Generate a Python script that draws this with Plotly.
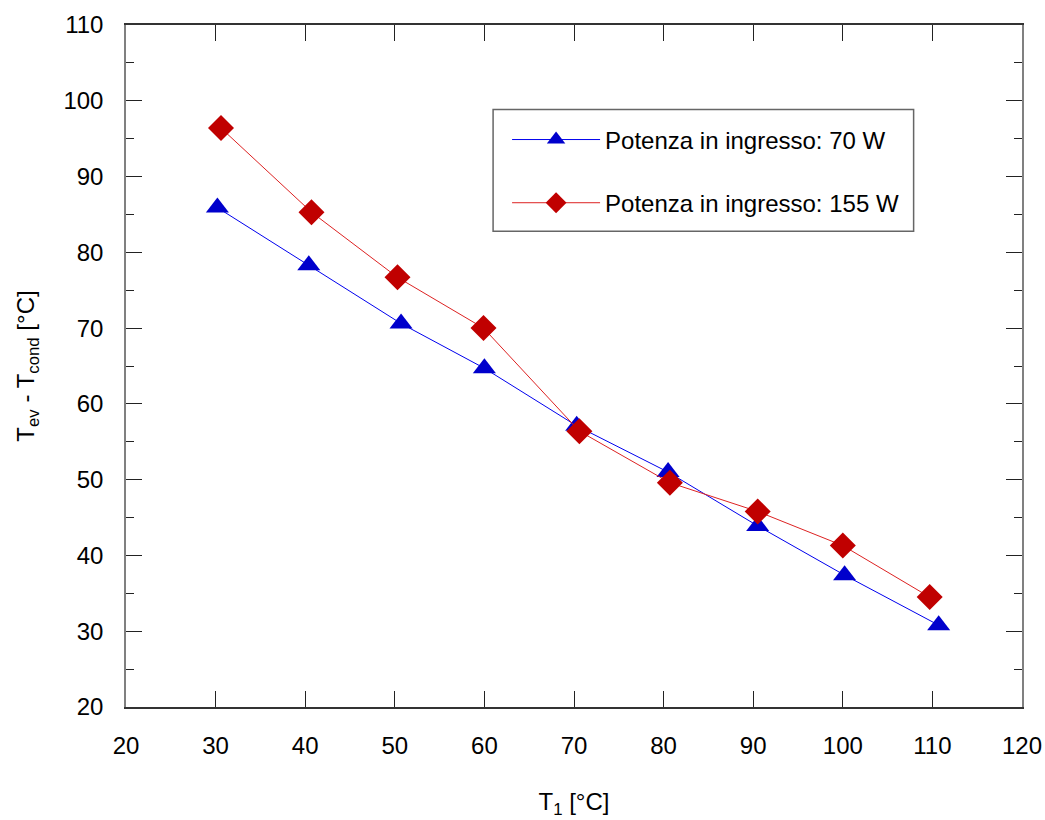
import plotly.graph_objects as go

t1_70 = [30.2, 40.4, 50.7, 60.0, 70.3, 80.5, 90.5, 100.2, 110.7]
dt_70 = [85.9, 78.3, 70.6, 64.7, 57.1, 51.0, 43.9, 37.4, 30.8]
t1_155 = [30.6, 40.7, 50.3, 59.9, 70.6, 80.7, 90.5, 100.0, 109.7]
dt_155 = [96.4, 85.3, 76.7, 70.0, 56.4, 49.6, 45.8, 41.3, 34.5]
name_70 = "Potenza in ingresso: 70 W"
name_155 = "Potenza in ingresso: 155 W"
x_ticks = [20, 30, 40, 50, 60, 70, 80, 90, 100, 110, 120]
y_ticks = [20, 30, 40, 50, 60, 70, 80, 90, 100, 110]

font = "Liberation Sans, Arial, sans-serif"

# page geometry (body margin removed by post_script)
W, H = 1045, 820
PX0, PX1, PY0, PY1 = 125.5, 1022.5, 24.5, 707.0
def fx(px):
    return (px - PX0) / (PX1 - PX0)
def fy(py):
    return (PY1 - py) / (PY1 - PY0)

fig = go.Figure()
fig.add_trace(go.Scatter(
    x=t1_70, y=dt_70, mode="lines+markers", name=name_70, legendgroup="a",
    line=dict(color="#0000ee", width=1),
    marker=dict(symbol="triangle-up", size=20, color="#0000cc"),
))
fig.add_trace(go.Scatter(
    x=t1_155, y=dt_155, mode="lines+markers", name=name_155, legendgroup="b",
    line=dict(color="#dd2222", width=1),
    marker=dict(symbol="diamond", size=20, color="#c00000"),
))

fig.add_shape(type="rect", xref="paper", yref="paper",
              x0=fx(493), x1=fx(914), y0=fy(231), y1=fy(109),
              line=dict(color="#666666", width=1.5), fillcolor="white", layer="below")

fig.update_layout(
    width=W, height=H,
    margin=dict(l=PX0, r=W - PX1, t=PY0, b=H - PY1),
    paper_bgcolor="white", plot_bgcolor="white",
    font=dict(family=font, size=24, color="black"),
    showlegend=True,
    legend=dict(
        x=fx(507), y=fy(117),
        xanchor="left", yanchor="top",
        borderwidth=0, bgcolor="rgba(0,0,0,0)",
        font=dict(family=font, size=24, color="black"),
        tracegroupgap=29, traceorder="grouped",
        itemwidth=88,
    ),
)
fig.update_xaxes(
    range=[20, 120], tickvals=x_ticks, ticks="inside", ticklen=16,
    tickcolor="#222", showline=True, linecolor="#333", linewidth=1.5,
    mirror="ticks", showgrid=False, zeroline=False, automargin=False,
    tickfont=dict(size=24), ticklabelstandoff=16,
    title=dict(text="T<sub>1</sub> [°C]", font=dict(size=24), standoff=36),
)
fig.update_yaxes(
    range=[20, 110], tickvals=y_ticks, ticks="inside", ticklen=16,
    tickcolor="#222", showline=True, linecolor="#808080", linewidth=1.5,
    mirror="ticks", showgrid=False, zeroline=False, automargin=False,
    tickfont=dict(size=24), ticklabelstandoff=16,
    minor=dict(ticks="inside", ticklen=8, tickcolor="#222", dtick=5, showgrid=False),
    title=dict(text="T<sub>ev</sub> - T<sub>cond</sub> [°C]", font=dict(size=24), standoff=22),
)

fig.write_html("out.html", config={"displayModeBar": False},
               post_script="document.body.style.margin='0px';")
